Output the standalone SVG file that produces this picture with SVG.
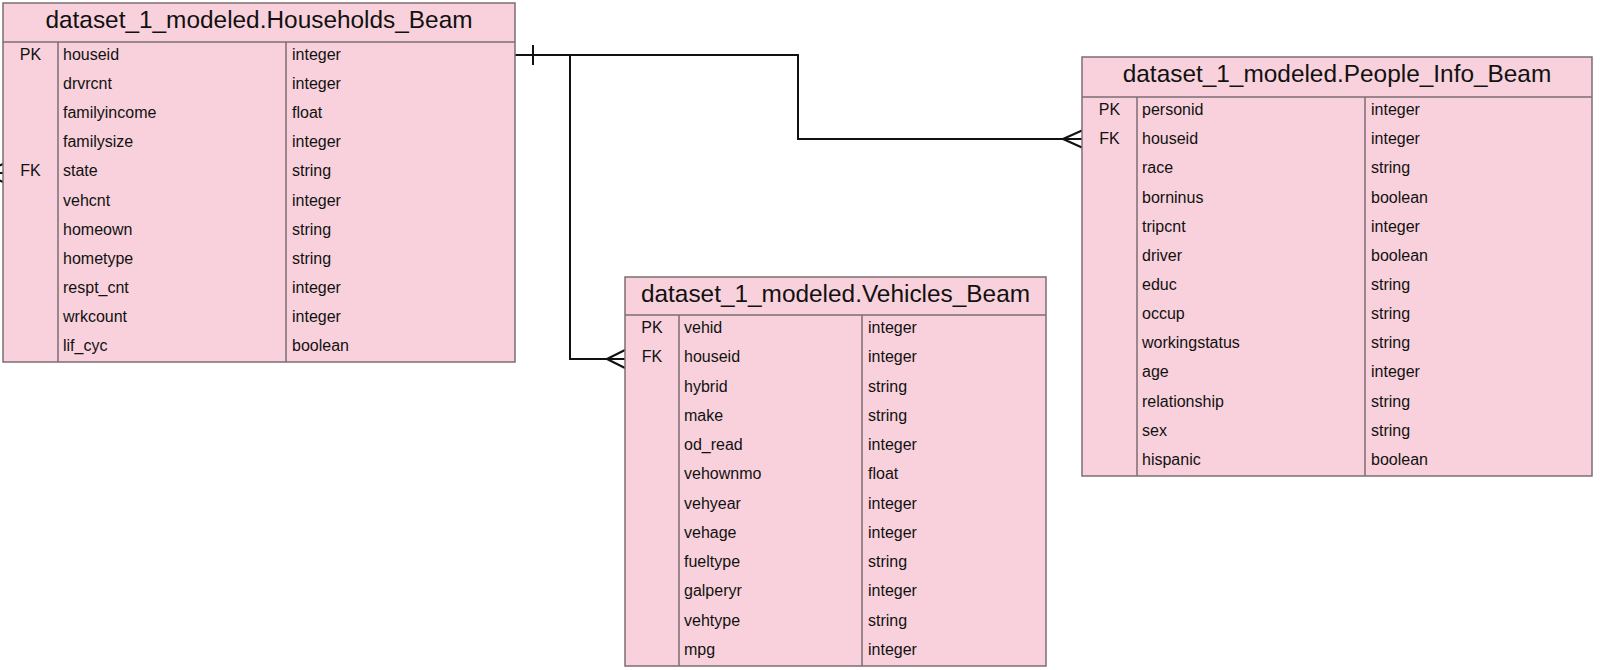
<svg xmlns="http://www.w3.org/2000/svg" width="1600" height="670" viewBox="0 0 1600 670">
<style>
.box{fill:#f9d1dc;stroke:#7d6d73;stroke-width:1.5}
.div{stroke:#7d6d73;stroke-width:1.5;fill:none}
.t{font-family:"Liberation Sans",Arial,sans-serif;font-size:24.4px;fill:#111;text-anchor:middle}
.f{font-family:"Liberation Sans",Arial,sans-serif;font-size:16px;fill:#111}
.k{font-family:"Liberation Sans",Arial,sans-serif;font-size:16px;fill:#111;text-anchor:middle}
.c{fill:none;stroke:#111;stroke-width:2}
</style>
<rect width="1600" height="670" fill="#ffffff"/>
<g id="connectors">
<path class="c" d="M515,55 H798 V139 H1082"/>
<path class="c" d="M533,45 V65"/>
<path class="c" d="M1063,139 L1082,130.5 M1063,139 L1082,147.5"/>
<path class="c" d="M570,55 V359 H625"/>
<path class="c" d="M607,359 L625,350 M607,359 L625,368"/>
<path class="c" d="M-16,173 L3,164 M-16,173 L3,182 M-16,173 H3"/>
</g>
<g id="households">
<rect class="box" x="3" y="3" width="512" height="359"/>
<path class="div" d="M3,42 H515 M58,42 V362 M286,42 V362"/>
<text class="t" x="259" y="28">dataset_1_modeled.Households_Beam</text>
<text class="k" x="30.5" y="60">PK</text>
<text class="k" x="30.5" y="176.4">FK</text>
<text class="f" x="63" y="60">houseid</text><text class="f" x="292" y="60">integer</text>
<text class="f" x="63" y="89.1">drvrcnt</text><text class="f" x="292" y="89.1">integer</text>
<text class="f" x="63" y="118.2">familyincome</text><text class="f" x="292" y="118.2">float</text>
<text class="f" x="63" y="147.3">familysize</text><text class="f" x="292" y="147.3">integer</text>
<text class="f" x="63" y="176.4">state</text><text class="f" x="292" y="176.4">string</text>
<text class="f" x="63" y="205.5">vehcnt</text><text class="f" x="292" y="205.5">integer</text>
<text class="f" x="63" y="234.6">homeown</text><text class="f" x="292" y="234.6">string</text>
<text class="f" x="63" y="263.7">hometype</text><text class="f" x="292" y="263.7">string</text>
<text class="f" x="63" y="292.8">respt_cnt</text><text class="f" x="292" y="292.8">integer</text>
<text class="f" x="63" y="321.9">wrkcount</text><text class="f" x="292" y="321.9">integer</text>
<text class="f" x="63" y="351">lif_cyc</text><text class="f" x="292" y="351">boolean</text>
</g>
<g id="people_info">
<rect class="box" x="1082" y="57" width="510" height="419"/>
<path class="div" d="M1082,97 H1592 M1137,97 V476 M1365,97 V476"/>
<text class="t" x="1337" y="82">dataset_1_modeled.People_Info_Beam</text>
<text class="k" x="1109.5" y="115">PK</text>
<text class="k" x="1109.5" y="144.2">FK</text>
<text class="f" x="1142" y="115">personid</text><text class="f" x="1371" y="115">integer</text>
<text class="f" x="1142" y="144.2">houseid</text><text class="f" x="1371" y="144.2">integer</text>
<text class="f" x="1142" y="173.3">race</text><text class="f" x="1371" y="173.3">string</text>
<text class="f" x="1142" y="202.5">borninus</text><text class="f" x="1371" y="202.5">boolean</text>
<text class="f" x="1142" y="231.6">tripcnt</text><text class="f" x="1371" y="231.6">integer</text>
<text class="f" x="1142" y="260.8">driver</text><text class="f" x="1371" y="260.8">boolean</text>
<text class="f" x="1142" y="289.9">educ</text><text class="f" x="1371" y="289.9">string</text>
<text class="f" x="1142" y="319.1">occup</text><text class="f" x="1371" y="319.1">string</text>
<text class="f" x="1142" y="348.2">workingstatus</text><text class="f" x="1371" y="348.2">string</text>
<text class="f" x="1142" y="377.4">age</text><text class="f" x="1371" y="377.4">integer</text>
<text class="f" x="1142" y="406.5">relationship</text><text class="f" x="1371" y="406.5">string</text>
<text class="f" x="1142" y="435.7">sex</text><text class="f" x="1371" y="435.7">string</text>
<text class="f" x="1142" y="464.8">hispanic</text><text class="f" x="1371" y="464.8">boolean</text>
</g>
<g id="vehicles">
<rect class="box" x="625" y="277" width="421" height="389"/>
<path class="div" d="M625,315 H1046 M679,315 V666 M862,315 V666"/>
<text class="t" x="835.5" y="302">dataset_1_modeled.Vehicles_Beam</text>
<text class="k" x="652" y="333">PK</text>
<text class="k" x="652" y="362.3">FK</text>
<text class="f" x="684" y="333">vehid</text><text class="f" x="868" y="333">integer</text>
<text class="f" x="684" y="362.3">houseid</text><text class="f" x="868" y="362.3">integer</text>
<text class="f" x="684" y="391.5">hybrid</text><text class="f" x="868" y="391.5">string</text>
<text class="f" x="684" y="420.8">make</text><text class="f" x="868" y="420.8">string</text>
<text class="f" x="684" y="450">od_read</text><text class="f" x="868" y="450">integer</text>
<text class="f" x="684" y="479.3">vehownmo</text><text class="f" x="868" y="479.3">float</text>
<text class="f" x="684" y="508.5">vehyear</text><text class="f" x="868" y="508.5">integer</text>
<text class="f" x="684" y="537.8">vehage</text><text class="f" x="868" y="537.8">integer</text>
<text class="f" x="684" y="567">fueltype</text><text class="f" x="868" y="567">string</text>
<text class="f" x="684" y="596.3">galperyr</text><text class="f" x="868" y="596.3">integer</text>
<text class="f" x="684" y="625.5">vehtype</text><text class="f" x="868" y="625.5">string</text>
<text class="f" x="684" y="654.8">mpg</text><text class="f" x="868" y="654.8">integer</text>
</g>
</svg>
